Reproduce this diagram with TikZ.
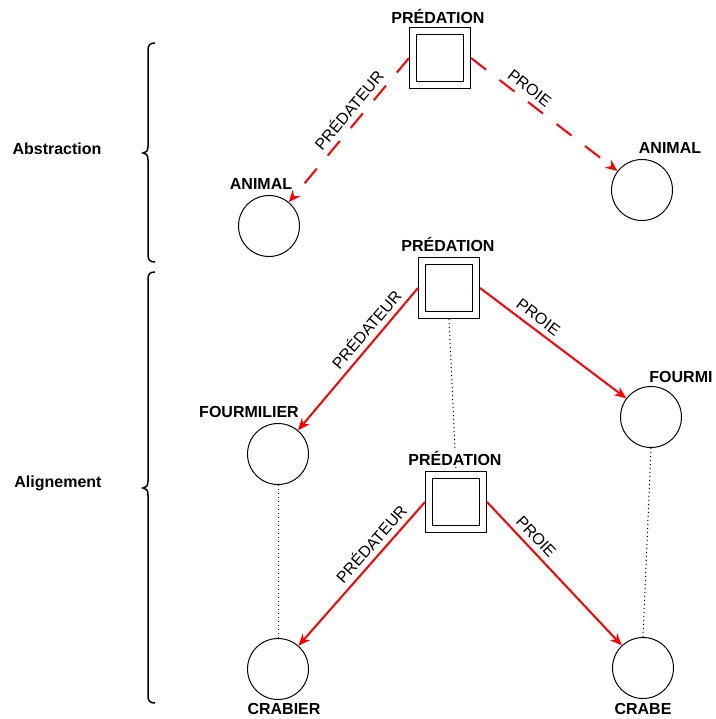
\documentclass[tikz,border=0pt]{standalone}
\usepackage{fontspec}
\setmainfont{Liberation Sans}
\usetikzlibrary{arrows.meta}
\begin{document}
\begin{tikzpicture}[x=1pt,y=-1pt,
  every node/.style={font=\fontsize{16}{19}\selectfont},
  title/.style={font=\fontsize{16}{19}\selectfont\bfseries,fill=white,inner sep=1pt},
  ent/.style={circle,draw,line width=1pt,minimum size=61pt,inner sep=0pt},
  rel/.style={draw,line width=1.2pt,double,double distance=5.5pt,minimum size=54pt,inner sep=0pt,outer sep=4pt},
  role/.style={red,line width=2pt,-{Stealth[length=12pt,width=10pt]}},
  absrole/.style={role,dash pattern=on 19pt off 17pt},
  same/.style={line width=1pt,dash pattern=on 1.2pt off 2.8pt}]
  \useasboundingbox (0,0) rectangle (715,719);

  % abstraction
  \node[rel] (p1) at (440,58) {};
  \node[title] at (438,16) {PRÉDATION};
  \node[ent] (a1) at (269,226) {};
  \node[title] at (261,184) {ANIMAL};
  \node[ent] (a2) at (642,190) {};
  \node[title] at (670,148) {ANIMAL};
  \draw[absrole] (p1.west) -- node[pos=.42,sloped,above=2pt,black] {PRÉDATEUR} (a1);
  \draw[absrole] (p1.east) -- node[pos=.35,sloped,above=2pt,black] {PROIE} (a2);

  % alignement
  \node[rel] (p2) at (449,288) {};
  \node[ent] (fmr) at (278,454) {};
  \node[title] at (249,412) {FOURMILIER};
  \node[ent] (fmi) at (651,417) {};
  \node[title] at (681,377) {FOURMI};
  \node[rel] (p3) at (456,502) {};
  \node[ent] (crr) at (278,669) {};
  \node[title] at (284,709) {CRABIER};
  \node[ent] (cre) at (643,668) {};
  \node[title] at (643,709) {CRABE};

  \draw[same] (p2.south) -- (p3.north);
  \draw[same] (fmr.south) -- (crr.north);
  \draw[same] (fmi.south) -- (cre.north);
  \node[title] at (448,244) {PRÉDATION};
  \node[title] at (455,458) {PRÉDATION};

  \draw[role] (p2.west) -- node[pos=.35,sloped,above=2pt,black] {PRÉDATEUR} (fmr);
  \draw[role] (p2.east) -- node[pos=.35,sloped,above=2pt,black] {PROIE} (fmi);
  \draw[role] (p3.west) -- node[pos=.35,sloped,above=2pt,black] {PRÉDATEUR} (crr);
  \draw[role] (p3.east) -- node[pos=.3,sloped,above=2pt,black] {PROIE} (cre);

  % braces
  \draw[line width=1.5pt] (155,43) .. controls (150,43) and (148,45) .. (148,50) -- (148,146)
    .. controls (148,151) and (146,153) .. (143,153) .. controls (146,153) and (148,155) .. (148,160)
    -- (148,255) .. controls (148,260) and (150,262) .. (155,262);
  \node[title] at (57,149) {Abstraction};
  \draw[line width=1.5pt] (155,272) .. controls (150,272) and (148,274) .. (148,279) -- (148,481)
    .. controls (148,486) and (146,488) .. (143,488) .. controls (146,488) and (148,490) .. (148,495)
    -- (148,696) .. controls (148,701) and (150,703) .. (155,703);
  \node[title] at (58,483) {Alignement};
\end{tikzpicture}
\end{document}
